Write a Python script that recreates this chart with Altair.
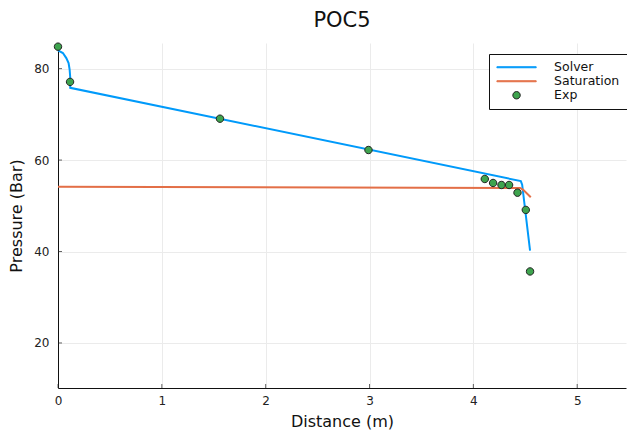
import altair as alt
import pandas as pd

# ---------------- data ----------------
series_names = ["Solver", "Saturation", "Exp"]
fill_colors = ["#009AFA", "#E36F47", "#3EA44E"]
stroke_colors = ["#009AFA", "#E36F47", "#222222"]

solver_x = [0.0, 0.047, 0.08, 0.102, 0.112, 0.118, 0.118, 4.457, 4.47, 4.546]
solver_y = [84.0, 83.4, 82.3, 81.2, 79.8, 78.0, 75.8, 55.4, 54.6, 40.2]

sat_x = [0.0, 4.45, 4.48, 4.553]
sat_y = [54.15, 53.9, 53.5, 51.85]

exp_x = [0.0, 0.116, 1.56, 2.99, 4.11, 4.19, 4.271, 4.344, 4.425, 4.505, 4.546]
exp_y = [84.8, 77.1, 69.05, 62.2, 55.86, 54.99, 54.55, 54.55, 52.86, 49.1, 35.64]

x_ticks = [0, 1, 2, 3, 4, 5]
y_ticks = [20, 40, 60, 80]
x_domain = [0, 5.47]
y_domain = [10.15, 85.6]

# ---------------- tables ----------------
lines_df = pd.concat([
    pd.DataFrame({"x": solver_x, "y": solver_y, "series": "Solver", "idx": range(len(solver_x))}),
    pd.DataFrame({"x": sat_x, "y": sat_y, "series": "Saturation", "idx": range(len(sat_x))}),
], ignore_index=True)
exp_df = pd.DataFrame({"x": exp_x, "y": exp_y, "series": "Exp"})
xt_df = pd.DataFrame({"t": x_ticks})
yt_df = pd.DataFrame({"t": y_ticks})

FONT = "DejaVu Sans"
# legend glyphs: same invisible extents (moveTo) so every legend row has equal bounds
line_path = "M0,-1M0,1M-5.3,-0.135L5.3,-0.135L5.3,0.135L-5.3,0.135Z"
dot_path = "M-5.3,0M5.3,0M-1,0A1,1,0,1,1,1,0A1,1,0,1,1,-1,0Z"

xscale = alt.Scale(domain=x_domain, nice=False, zero=False)
yscale = alt.Scale(domain=y_domain, nice=False, zero=False)
stroke_scale = alt.Scale(domain=series_names, range=stroke_colors)
fill_scale = alt.Scale(domain=series_names, range=fill_colors)
shape_scale = alt.Scale(domain=series_names, range=[line_path, line_path, dot_path])

legend = alt.Legend(
    title=None, orient="none", legendX=431, legendY=11, columns=1,
    gridAlign="none", labelAlign="left",
    fillColor="white", strokeColor="#111111", padding=7, cornerRadius=0,
    labelFont=FONT, labelFontSize=12.5, labelColor="#111111",
    symbolSize=55, symbolStrokeWidth=1, symbolOpacity=1,
    symbolOffset=14.3, labelOffset=31.3, rowPadding=1,
)

X = alt.X("x:Q", scale=xscale, title="Distance (m)",
          axis=alt.Axis(values=x_ticks, format="d"))
Y = alt.Y("y:Q", scale=yscale, title="Pressure (Bar)",
          axis=alt.Axis(values=y_ticks, format="d"))

lines = alt.Chart(lines_df).mark_line(strokeWidth=2).encode(
    x=X, y=Y,
    stroke=alt.Stroke("series:N", scale=stroke_scale, legend=legend),
    order="idx:Q",
)

points = alt.Chart(exp_df).mark_point(filled=True, size=55, strokeWidth=1, opacity=1).encode(
    x=X, y=Y,
    fill=alt.Fill("series:N", scale=fill_scale, legend=legend),
    stroke=alt.Stroke("series:N", scale=stroke_scale, legend=legend),
    shape=alt.Shape("series:N", scale=shape_scale, legend=legend),
)

xticks = alt.Chart(xt_df).mark_tick(orient="vertical", size=4, thickness=1,
                                    color="#222222", yOffset=-2).encode(
    x=alt.X("t:Q", scale=xscale, title="Distance (m)"),
    y=alt.datum(y_domain[0]),
)
yticks = alt.Chart(yt_df).mark_tick(orient="horizontal", size=4, thickness=1,
                                    color="#222222", xOffset=2).encode(
    y=alt.Y("t:Q", scale=yscale, title="Pressure (Bar)"),
    x=alt.datum(x_domain[0]),
)

chart = alt.layer(xticks, yticks, lines, points).properties(
    width=568, height=345,
    title=alt.TitleParams("POC5", font=FONT, fontSize=21, fontWeight="normal",
                          color="#111111", anchor="middle", offset=10),
    autosize=alt.AutoSizeParams(type="none"),
    padding={"left": 58, "top": 43, "right": 1, "bottom": 44},
).configure(
    font=FONT,
).configure_view(
    stroke=None,
).configure_axis(
    domainColor="#111111", domainWidth=1, ticks=False, labelFlush=False,
    grid=True, gridColor="#ebebeb", gridWidth=1,
    labelFont=FONT, labelFontSize=12, labelColor="#222222",
    titleFont=FONT, titleFontSize=16, titleFontWeight="normal", titleColor="#111111",
).configure_axisX(
    labelPadding=7, titlePadding=7,
).configure_axisY(
    labelPadding=9, titlePadding=9,
)

chart.save("out.html", embed_options={"renderer": "svg", "actions": False})
